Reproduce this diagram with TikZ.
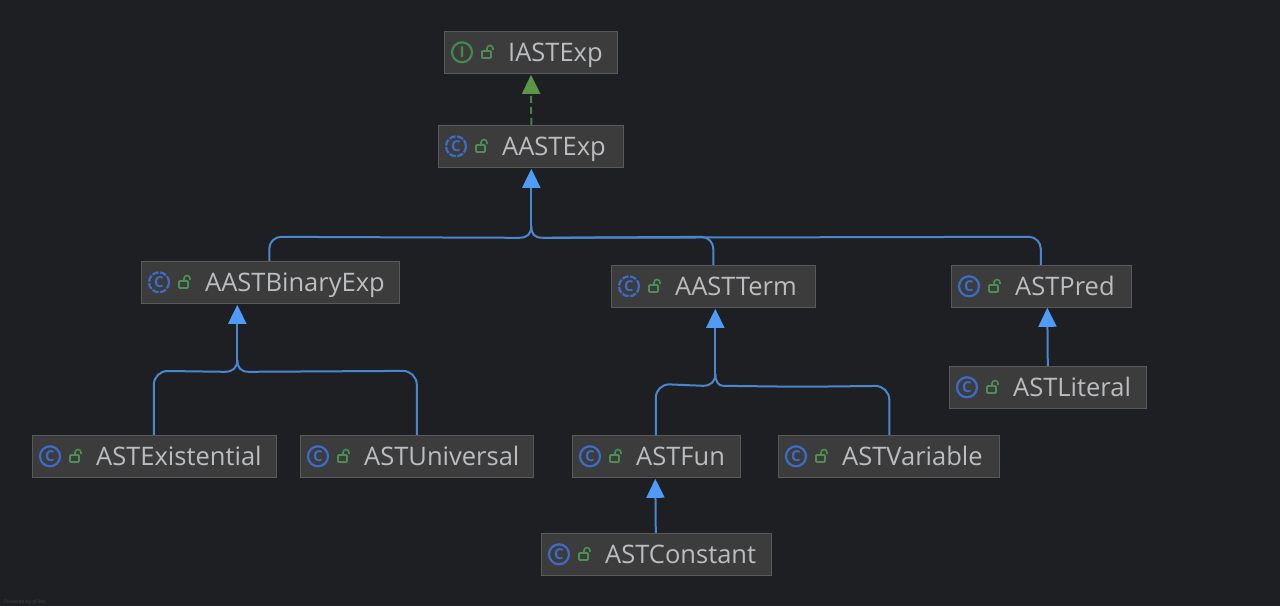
\documentclass[tikz,border=0pt]{standalone}
\usepackage{fontspec}
\setmainfont{Open Sans}
\usetikzlibrary{arrows.meta,calc}
\definecolor{bg}{HTML}{1E1F22}
\definecolor{boxfill}{HTML}{3C3C3C}
\definecolor{boxline}{HTML}{58595A}
\definecolor{txt}{HTML}{BBBDC0}
\definecolor{bluel}{HTML}{4A87CE}
\definecolor{bluehead}{HTML}{4F9BF7}
\definecolor{greenl}{HTML}{4C7F43}
\definecolor{greenhead}{HTML}{5C9749}
\definecolor{iconblue}{HTML}{3C6CC8}
\definecolor{icongreen}{HTML}{3F8A4C}
\definecolor{lockgreen}{HTML}{4C8F52}
\tikzset{
  x=1pt,y=-1pt,
  classbox/.style={draw=boxline,fill=boxfill,line width=1pt,inner sep=0pt,rectangle},
  label/.style={text=txt,anchor=base west,inner sep=0pt,font=\fontsize{25.5}{28}\selectfont},
  edge/.style={draw=bluel,line width=2pt,-{Triangle[length=19pt,width=18pt,fill=bluehead,color=bluehead]}},
  plainedge/.style={draw=bluel,line width=2pt},
  impl/.style={draw=greenl,line width=2pt,dash pattern=on 7pt off 4pt,-{Triangle[length=19pt,width=18pt,fill=greenhead,color=greenhead]}},
  iconring/.style={circle,draw=iconblue,line width=2.2pt,minimum size=20pt,inner sep=0pt},
  iconabs/.style={iconring,dash pattern=on 6.5pt off 1.5pt},
  iconif/.style={iconring,draw=icongreen},
  letter/.style={text=iconblue,font=\bfseries\fontsize{15}{15}\selectfont,inner sep=0pt},
}
% name, x1, y1, x2, y2, ring style, letter, letter colour, text
\newcommand{\classnode}[9]{%
  \node[classbox,minimum width=#4pt-#2pt,minimum height=#5pt-#3pt] (#1) at ({(#2+#4)/2+0.3},{(#3+#5)/2+0.3}) {};
  \node[#6] (#1icon) at ({#2+18},{(#3+#5)/2+0.3}) {};
  \node[letter,text=#8] (#1letter) at (#1icon.center) {#7};
  \coordinate (#1lock) at ({#2+44.5},{(#3+#5)/2});
  \draw[lockgreen,line width=1.6pt,rounded corners=0.8pt] ($(#1lock)+(-6.5,-1)$) rectangle ($(#1lock)+(2.5,6)$);
  \draw[lockgreen,line width=1.6pt,line cap=round] ($(#1lock)+(-1.5,-1)$) -- ($(#1lock)+(-1.5,-3.5)$) arc[start angle=180,end angle=0,x radius=3,y radius=-3] -- ($(#1lock)+(4.5,-2.5)$);
  \node[label] (#1text) at ({#2+64},{(#3+#5)/2+9}) {#9};
}
\begin{document}
\begin{tikzpicture}
\useasboundingbox[fill=bg] (0,0) rectangle (1280,606);
\classnode{iast}{444}{31}{617}{73}{iconif}{I}{icongreen}{IASTExp}
\classnode{aast}{438}{125}{623}{167}{iconabs}{C}{iconblue}{AASTExp}
\classnode{binary}{141}{261}{399}{303}{iconabs}{C}{iconblue}{AASTBinaryExp}
\classnode{term}{611}{265}{815}{307}{iconabs}{C}{iconblue}{AASTTerm}
\classnode{pred}{951}{265}{1131}{307}{iconring}{C}{iconblue}{ASTPred}
\classnode{literal}{949}{366}{1146}{408}{iconring}{C}{iconblue}{ASTLiteral}
\classnode{exist}{32}{435}{276}{477}{iconring}{C}{iconblue}{ASTExistential}
\classnode{univ}{300}{435}{533}{477}{iconring}{C}{iconblue}{ASTUniversal}
\classnode{fun}{572}{435}{740}{477}{iconring}{C}{iconblue}{ASTFun}
\classnode{var}{778}{435}{999}{477}{iconring}{C}{iconblue}{ASTVariable}
\classnode{const}{541}{533}{771}{575}{iconring}{C}{iconblue}{ASTConstant}
% implementation
\draw[impl] ($(aast.north)+(0.5,0)$) -- ($(iast.south)+(0.2,1)$);
% to AASTExp
\draw[plainedge,rounded corners=12pt] ($(binary.north west)+(128.5,0)$) -- ++(0,-24) -- ($(aast.south)+(-12,70)$);
\draw[plainedge] ($(aast.south)+(-12,70)$) .. controls ($(aast.south)+(-3,70)$) and ($(aast.south)+(0.5,66)$) .. ($(aast.south)+(0.5,58)$);
\draw[plainedge,rounded corners=12pt] ($(term.north west)+(102.5,0)$) -- ++(0,-28) -- ($(aast.south)+(12,70)$);
\draw[plainedge,rounded corners=12pt] ($(pred.north west)+(90,0)$) -- ++(0,-28) -- ($(aast.south)+(12,70)$);
\draw[plainedge] ($(aast.south)+(12,70)$) .. controls ($(aast.south)+(3,70)$) and ($(aast.south)+(0.5,66)$) .. ($(aast.south)+(0.5,58)$);
\draw[edge] ($(aast.south)+(0.5,60)$) -- ($(aast.south)+(0.5,1)$);
% to AASTBinaryExp
\draw[plainedge,rounded corners=14pt] ($(exist.north west)+(122,0)$) -- ++(0,-64) -- ($(binary.south west)+(84,68)$);
\draw[plainedge,rounded corners=14pt] ($(univ.north west)+(117,0)$) -- ++(0,-64) -- ($(binary.south west)+(108,68)$);
\draw[plainedge] ($(binary.south west)+(84,68)$) .. controls ($(binary.south west)+(92,68)$) and ($(binary.south west)+(96.5,64)$) .. ($(binary.south west)+(96.5,56)$);
\draw[plainedge] ($(binary.south west)+(108,68)$) .. controls ($(binary.south west)+(100,68)$) and ($(binary.south west)+(96.5,64)$) .. ($(binary.south west)+(96.5,56)$);
\draw[edge] ($(binary.south west)+(96.5,58)$) -- ($(binary.south west)+(96.5,1)$);
% to AASTTerm
\draw[plainedge,rounded corners=14pt] ($(fun.north west)+(84,0)$) -- ++(0,-51) -- ($(term.south west)+(92,78)$);
\draw[plainedge,rounded corners=14pt] ($(var.north west)+(111.5,0)$) -- ++(0,-49) -- ($(term.south west)+(190,79)$) -- ($(term.south west)+(112,78)$);
\draw[plainedge] ($(term.south west)+(92,78)$) .. controls ($(term.south west)+(100,78)$) and ($(term.south west)+(104.5,74)$) .. ($(term.south west)+(104.5,66)$);
\draw[plainedge] ($(term.south west)+(112,78)$) .. controls ($(term.south west)+(108,78)$) and ($(term.south west)+(104.5,74)$) .. ($(term.south west)+(104.5,66)$);
\draw[edge] ($(term.south west)+(104.5,68)$) -- ($(term.south west)+(104.5,1)$);
% single edges
\draw[edge] ($(literal.north west)+(99,0)$) -- ($(pred.south west)+(96.5,0)$);
\draw[edge] ($(const.north west)+(115,0)$) -- ($(fun.south west)+(83.5,1)$);
\node[anchor=base west,inner sep=0pt,text=boxline!60!bg,font=\fontsize{5}{6}\selectfont] (powered) at (4,603) {Powered by yFiles};
\end{tikzpicture}
\end{document}
